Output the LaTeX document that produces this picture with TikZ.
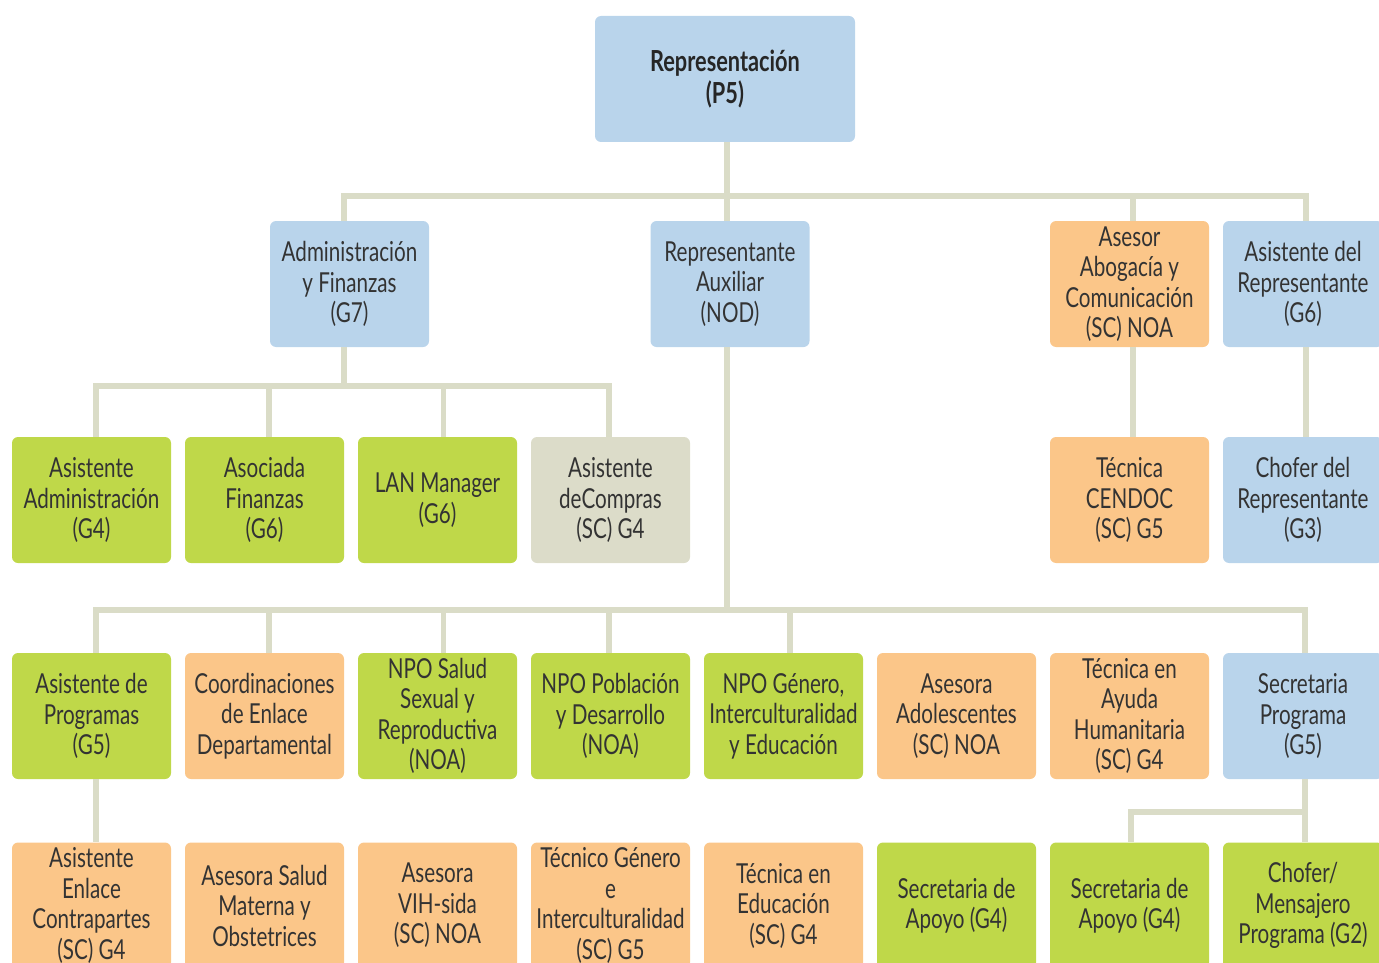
\documentclass[tikz,border=0pt]{standalone}
\usepackage{fontspec}
\setmainfont{Lato}[FakeStretch=0.75]
\usetikzlibrary{calc}
\definecolor{cblue}{HTML}{B9D4EB}
\definecolor{cgreen}{HTML}{BFD849}
\definecolor{corange}{HTML}{FBC689}
\definecolor{cgrey}{HTML}{DCDCC9}
\definecolor{cline}{HTML}{DADCC7}
\definecolor{ctext}{HTML}{333333}
\tikzset{
  box/.style={rounded corners=6pt, minimum width=159pt, minimum height=126pt,
    inner sep=0pt, align=center, text=ctext,
    font=\fontsize{27.5}{30.5}\selectfont},
  bl/.style={box, fill=cblue},
  gr/.style={box, fill=cgreen},
  orb/.style={box, fill=corange},
  gy/.style={box, fill=cgrey},
  conn/.style={draw=cline, line width=5.5pt}
}
\begin{document}
\begin{tikzpicture}[x=1pt,y=-1pt]
\useasboundingbox (0,0) rectangle (1379,963);
\clip (0,0) rectangle (1379,963);
% top
\node[bl, minimum width=260pt, font=\bfseries\fontsize{29}{32}\selectfont, text=black!85] (rep) at (725,79) {Representación\\(P5)};
% row 1
\node[bl] (adm) at (349.5,284) {Administración\\y Finanzas\\(G7)};
\node[bl] (aux) at (730,284) {Representante\\Auxiliar\\(NOD)};
\node[orb] (abog) at (1129.5,284) {Asesor\\Abogacía y\\Comunicación\\(SC) NOA};
\node[bl, minimum width=160pt] (asrep) at (1303,284) {Asistente del\\Representante\\(G6)};
% row 2
\node[gr] (a1) at (91.5,500) {Asistente\\Administración\\(G4)};
\node[gr] (a2) at (264.5,500) {Asociada\\Finanzas\\(G6)};
\node[gr] (a3) at (437.5,500) {LAN Manager\\(G6)};
\node[gy] (a4) at (610.5,500) {Asistente\\deCompras\\(SC) G4};
\node[orb] (cend) at (1129.5,500) {Técnica\\CENDOC\\(SC) G5};
\node[bl, minimum width=160pt] (chof) at (1303,500) {Chofer del\\Representante\\(G3)};
% row 3
\node[gr] (p1) at (91.5,716) {Asistente de\\Programas\\(G5)};
\node[orb] (p2) at (264.5,716) {Coordinaciones\\de Enlace\\Departamental};
\node[gr] (p3) at (437.5,716) {NPO Salud\\Sexual y\\Reproductiva\\(NOA)};
\node[gr] (p4) at (610.5,716) {NPO Población\\y Desarrollo\\(NOA)};
\node[gr] (p5) at (783.5,716) {NPO Género,\\Interculturalidad\\y Educación};
\node[orb] (p6) at (956.5,716) {Asesora\\Adolescentes\\(SC) NOA};
\node[orb] (p7) at (1129.5,716) {Técnica en\\Ayuda\\Humanitaria\\(SC) G4};
\node[bl, minimum width=160pt] (p8) at (1303,716) {Secretaria\\Programa\\(G5)};
% row 4
\node[orb] (q1) at (91.5,905.5) {Asistente\\Enlace\\Contrapartes\\(SC) G4};
\node[orb] (q2) at (264.5,905.5) {Asesora Salud\\Materna y\\Obstetrices};
\node[orb] (q3) at (437.5,905.5) {Asesora\\VIH-sida\\(SC) NOA};
\node[orb] (q4) at (610.5,905.5) {Técnico Género\\e\\Interculturalidad\\(SC) G5};
\node[orb] (q5) at (783.5,905.5) {Técnica en\\Educación\\(SC) G4};
\node[gr] (q6) at (956.5,905.5) {Secretaria de\\Apoyo (G4)};
\node[gr] (q7) at (1129.5,905.5) {Secretaria de\\Apoyo (G4)};
\node[gr, minimum width=160pt] (q8) at (1303,905.5) {Chofer/\\Mensajero\\Programa (G2)};
% bus coordinates
\coordinate (b0) at (727,196);
\coordinate (b1) at (344,386);
\coordinate (b2) at (727,610);
\coordinate (b3) at (1305,812);
% top level
\draw[conn] ([xshift=2pt]rep.south) -- (b0);
\draw[conn] (adm.north -| b1) -- (b1 |- b0) -- ([xshift=3pt]asrep.north |- b0) -- ([xshift=3pt]asrep.north);
\draw[conn] (b0) -- (aux.north -| b0);
\draw[conn] ([xshift=3.5pt]abog.north |- b0) -- ([xshift=3.5pt]abog.north);
% admin
\draw[conn] (adm.south -| b1) -- (b1);
\draw[conn] ([xshift=4.5pt]a1.north) -- ([xshift=4.5pt]a1.north |- b1) -- ([xshift=-1.5pt]a4.north |- b1) -- ([xshift=-1.5pt]a4.north);
\draw[conn] ([xshift=4.5pt]a2.north |- b1) -- ([xshift=4.5pt]a2.north);
\draw[conn] ([xshift=6pt]a3.north |- b1) -- ([xshift=6pt]a3.north);
% right column
\draw[conn] ([xshift=3.5pt]abog.south) -- ([xshift=3.5pt]cend.north);
\draw[conn] ([xshift=3pt]asrep.south) -- ([xshift=3pt]chof.north);
% auxiliar
\draw[conn] (aux.south -| b2) -- (b2);
\draw[conn] ([xshift=4.5pt]p1.north) -- ([xshift=4.5pt]p1.north |- b2) -- ([xshift=2pt]p8.north |- b2) -- ([xshift=2pt]p8.north);
\draw[conn] ([xshift=4.5pt]p2.north |- b2) -- ([xshift=4.5pt]p2.north);
\draw[conn] ([xshift=6pt]p3.north |- b2) -- ([xshift=6pt]p3.north);
\draw[conn] ([xshift=-1.5pt]p4.north |- b2) -- ([xshift=-1.5pt]p4.north);
\draw[conn] ([xshift=6.5pt]p5.north |- b2) -- ([xshift=6.5pt]p5.north);
% programas
\draw[conn] ([xshift=4.5pt]p1.south) -- ([xshift=4.5pt]q1.north);
\draw[conn] ([xshift=2pt]p8.south) -- ([xshift=2pt]q8.north);
\draw[conn] (b3) -- ([xshift=1.5pt]q7.north |- b3) -- ([xshift=1.5pt]q7.north);
\end{tikzpicture}
\end{document}
